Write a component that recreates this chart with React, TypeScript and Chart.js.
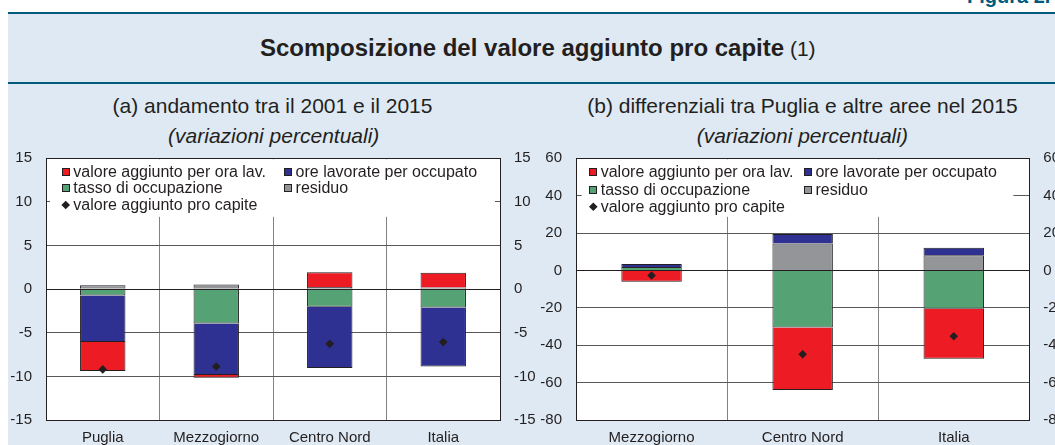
import React, { useEffect, useRef } from 'react';
import { Chart, registerables } from 'chart.js';

Chart.register(...registerables);

const FONT = '"Liberation Sans", Arial, Helvetica, sans-serif';
const TEXT = '#231f20';
const TEAL = '#005b7f';
const BG = '#dee9f3';
const RED = '#ed1c24';
const BLUE = '#2e3192';
const GREEN = '#55a374';
const GRAY = '#939598';

// Series names (legend order)
const seriesNames = [
  'valore aggiunto per ora lav.',
  'ore lavorate per occupato',
  'tasso di occupazione',
  'residuo',
  'valore aggiunto pro capite',
];

// Panel (a): andamento tra il 2001 e il 2015
const categoriesA = ['Puglia', 'Mezzogiorno', 'Centro Nord', 'Italia'];
const valoreOraA = [-3.32, -0.31, 1.7, 1.67];
const oreA = [-5.34, -5.91, -7.02, -6.77];
const tassoA = [-0.73, -3.94, -2.03, -2.1];
const residuoA = [0.46, 0.53, 0.25, 0.2];
const proCapiteA = [-9.2, -8.87, -6.27, -6.07];
const rangeA = [-15, 15, 5];

// Panel (b): differenziali tra Puglia e altre aree nel 2015
const categoriesB = ['Mezzogiorno', 'Centro Nord', 'Italia'];
const valoreOraB = [-6.07, -33.4, -26.8];
const oreB = [1.6, 5.0, 3.94];
const tassoB = [1.79, -30.5, -20.5];
const residuoB = [0, 14.46, 8.2];
const proCapiteB = [-2.68, -44.8, -35.2];
const rangeB = [-80, 60, 20];

const alignPx = (p: number) => Math.round(p - 0.5) + 0.5;

const decorPlugin = {
  id: 'decor',
  beforeDraw(chart: any) {
    const { ctx, chartArea: a } = chart;
    ctx.save();
    ctx.fillStyle = '#ffffff';
    ctx.fillRect(a.left, a.top, a.right - a.left, a.bottom - a.top);
    ctx.restore();
  },
  beforeDatasetsDraw(chart: any, _args: any, opts: any) {
    const { ctx, chartArea: a } = chart;
    const L = opts.legend;
    ctx.save();
    ctx.fillStyle = '#ffffff';
    const bx = a.left + L.boxLeft;
    ctx.fillRect(bx, a.top + 1, a.right - L.boxRight - bx, L.boxHeight);
    ctx.font = `${L.fontSize}px ${FONT}`;
    ctx.textBaseline = 'middle';
    ctx.textAlign = 'left';
    L.items.forEach((it: any) => {
      const cy = a.top + L.rows[it.row];
      const sx = a.left + (it.col === 0 ? L.col1 : L.col2);
      if (it.kind === 'square') {
        ctx.fillStyle = TEXT;
        ctx.fillRect(Math.round(sx), Math.round(cy - 4), 8, 8);
        ctx.fillStyle = it.color;
        ctx.fillRect(Math.round(sx) + 1, Math.round(cy - 4) + 1, 6, 6);
      } else {
        const cx = sx + 4;
        const r = 4.3;
        ctx.fillStyle = TEXT;
        ctx.beginPath();
        ctx.moveTo(cx, cy - r);
        ctx.lineTo(cx + r, cy);
        ctx.lineTo(cx, cy + r);
        ctx.lineTo(cx - r, cy);
        ctx.closePath();
        ctx.fill();
      }
      ctx.fillStyle = TEXT;
      ctx.fillText(it.label, sx + L.textGap, cy + 0.5);
    });
    ctx.restore();
  },
  afterDatasetDraw(chart: any, args: any) {
    if (args.index !== 0) return;
    const { ctx, chartArea: a, scales } = chart;
    const y = alignPx(scales.y.getPixelForValue(0));
    ctx.save();
    ctx.strokeStyle = TEXT;
    ctx.lineWidth = 1;
    ctx.beginPath();
    ctx.moveTo(a.left, y);
    ctx.lineTo(a.right, y);
    ctx.stroke();
    ctx.restore();
  },
  afterDraw(chart: any) {
    const { ctx, chartArea: a } = chart;
    ctx.save();
    ctx.strokeStyle = TEXT;
    ctx.lineWidth = 1;
    const l = alignPx(a.left);
    const r = alignPx(a.right);
    const t = alignPx(a.top);
    const b = alignPx(a.bottom);
    ctx.strokeRect(l, t, r - l, b - t);
    ctx.restore();
  },
};

const bar = (label: string, data: number[], color: string) => ({
  type: 'bar',
  label,
  data,
  backgroundColor: color,
  borderColor: TEXT,
  borderSkipped: false,
  borderWidth: (c: any) =>
    c.raw >= 0
      ? { top: 1, left: 1, right: 1, bottom: 0 }
      : { top: 0, left: 1, right: 1, bottom: 1 },
  categoryPercentage: 1,
  barPercentage: 0.4,
  stack: 'bars',
  order: 0,
});

type Spec = {
  categories: string[];
  valoreOra: number[];
  ore: number[];
  tasso: number[];
  residuo: number[];
  proCapite: number[];
  range: number[];
  leftW: number;
  rightW: number;
  legend: any;
};

function Panel({ spec, left, top, width, height }: { spec: Spec; left: number; top: number; width: number; height: number }) {
  const ref = useRef<HTMLCanvasElement>(null);
  useEffect(() => {
    const [min, max, step] = spec.range;
    const tickFont = { family: FONT, size: 15 };
    const chart = new Chart(ref.current as HTMLCanvasElement, {
      type: 'bar',
      data: {
        labels: spec.categories,
        datasets: [
          bar(seriesNames[3], spec.residuo, GRAY),
          bar(seriesNames[2], spec.tasso, GREEN),
          bar(seriesNames[1], spec.ore, BLUE),
          bar(seriesNames[0], spec.valoreOra, RED),
          {
            type: 'line',
            label: seriesNames[4],
            data: spec.proCapite,
            stack: 'pc',
            order: -1,
            showLine: false,
            pointStyle: 'rectRot',
            pointRadius: 4.3,
            pointHoverRadius: 4.3,
            pointBorderWidth: 0,
            pointBackgroundColor: TEXT,
            pointBorderColor: TEXT,
            backgroundColor: TEXT,
            borderColor: TEXT,
          },
        ] as any,
      },
      options: {
        responsive: false,
        animation: false,
        events: [],
        layout: { padding: { top: 13.3, left: 0, right: 0, bottom: 0 } },
        plugins: {
          legend: { display: false },
          tooltip: { enabled: false },
          decor: { legend: spec.legend },
        } as any,
        scales: {
          x: {
            stacked: true,
            offset: true,
            grid: { offset: true, color: '#808285', drawTicks: false, lineWidth: 1 },
            border: { display: false },
            ticks: { color: TEXT, font: tickFont, padding: 9, autoSkip: false, maxRotation: 0 },
            afterFit: (s: any) => {
              s.height = 25;
              s.paddingLeft = 0;
              s.paddingRight = 0;
            },
          },
          y: {
            type: 'linear',
            position: 'left',
            stacked: true,
            min,
            max,
            ticks: { stepSize: step, color: TEXT, font: tickFont, padding: 14, callback: (v: any) => String(v) },
            grid: {
              color: (c: any) => (c.tick && c.tick.value === 0 ? TEXT : '#58595b'),
              drawTicks: false,
              lineWidth: 1,
            },
            border: { display: false },
            afterFit: (s: any) => {
              s.width = spec.leftW;
              s.paddingTop = 0;
              s.paddingBottom = 0;
            },
          },
          y2: {
            type: 'linear',
            position: 'right',
            min,
            max,
            ticks: { stepSize: step, color: TEXT, font: tickFont, padding: 14, callback: (v: any) => String(v) },
            grid: { display: false, drawTicks: false },
            border: { display: false },
            afterFit: (s: any) => {
              s.width = spec.rightW;
              s.paddingTop = 0;
              s.paddingBottom = 0;
            },
          },
        } as any,
      },
      plugins: [decorPlugin as any],
    });
    return () => chart.destroy();
  }, []);
  return (
    <canvas
      ref={ref}
      width={width}
      height={height}
      style={{ position: 'absolute', left, top, width, height }}
    />
  );
}

const legendItems = [
  { kind: 'square', color: RED, label: seriesNames[0], row: 0, col: 0 },
  { kind: 'square', color: BLUE, label: seriesNames[1], row: 0, col: 1 },
  { kind: 'square', color: GREEN, label: seriesNames[2], row: 1, col: 0 },
  { kind: 'square', color: GRAY, label: seriesNames[3], row: 1, col: 1 },
  { kind: 'diamond', color: TEXT, label: seriesNames[4], row: 2, col: 0 },
];

const specA: Spec = {
  categories: categoriesA,
  valoreOra: valoreOraA,
  ore: oreA,
  tasso: tassoA,
  residuo: residuoA,
  proCapite: proCapiteA,
  range: rangeA,
  leftW: 46,
  rightW: 45,
  legend: {
    boxLeft: 4,
    boxRight: 5,
    boxHeight: 57.5,
    rows: [13.4, 30, 46.7],
    col1: 15.7,
    col2: 238,
    textGap: 11.6,
    fontSize: 16,
    items: legendItems,
  },
};

const specB: Spec = {
  categories: categoriesB,
  valoreOra: valoreOraB,
  ore: oreB,
  tasso: tassoB,
  residuo: residuoB,
  proCapite: proCapiteB,
  range: rangeB,
  leftW: 56,
  rightW: 25.7,
  legend: {
    boxLeft: 5.7,
    boxRight: 16,
    boxHeight: 57.5,
    rows: [14, 31.7, 48.4],
    col1: 13.3,
    col2: 228,
    textGap: 11.4,
    fontSize: 16,
    items: legendItems,
  },
};

function Txt({
  x,
  baseline,
  size,
  bold,
  italic,
  center,
  color,
  children,
}: {
  x: number;
  baseline: number;
  size: number;
  bold?: boolean;
  italic?: boolean;
  center?: boolean;
  color?: string;
  children: any;
}) {
  const top = baseline - 0.8465 * size;
  const style: any = {
    position: 'absolute',
    top,
    fontSize: size,
    lineHeight: `${size}px`,
    fontWeight: bold ? 'bold' : 'normal',
    fontStyle: italic ? 'italic' : 'normal',
    whiteSpace: 'nowrap',
    color: color || TEXT,
    fontFamily: FONT,
  };
  if (center) {
    style.left = x - 400;
    style.width = 800;
    style.textAlign = 'center';
  } else {
    style.left = x;
  }
  return <div style={style}>{children}</div>;
}

export default function App() {
  return (
    <div
      style={{
        position: 'absolute',
        left: 0,
        top: 0,
        width: 1055,
        height: 445,
        overflow: 'hidden',
        background: '#ffffff',
        fontFamily: FONT,
        color: TEXT,
      }}
    >
      <div style={{ position: 'absolute', left: 8, top: 14, right: 0, bottom: 0, background: BG }} />
      <div style={{ position: 'absolute', left: 8, top: 12, right: 0, height: 2, background: TEAL }} />
      <div style={{ position: 'absolute', left: 8, top: 82, right: 0, height: 2, background: TEAL }} />
      <Txt x={967} baseline={3} size={20} bold color={TEAL}>
        Figura 2.
      </Txt>
      <div
        style={{
          position: 'absolute',
          left: 260,
          top: 56.5 - 0.8465 * 24,
          fontSize: 24,
          lineHeight: '24px',
          whiteSpace: 'nowrap',
          fontFamily: FONT,
          color: TEXT,
        }}
      >
        <span style={{ fontSize: 24, fontWeight: 'bold' }}>Scomposizione del valore aggiunto pro capite</span>
        <span style={{ fontSize: 21 }}> (1)</span>
      </div>
      <Txt x={272.5} baseline={112.7} size={21} center>
        (a) andamento tra il 2001 e il 2015
      </Txt>
      <Txt x={273.7} baseline={142.3} size={21} italic center>
        (variazioni percentuali)
      </Txt>
      <Txt x={802.4} baseline={112.7} size={21} center>
        (b) differenziali tra Puglia e altre aree nel 2015
      </Txt>
      <Txt x={802.3} baseline={142.3} size={21} italic center>
        (variazioni percentuali)
      </Txt>
      <Panel spec={specA} left={0} top={145} width={545} height={300} />
      <Panel spec={specB} left={520} top={145} width={535} height={300} />
    </div>
  );
}
